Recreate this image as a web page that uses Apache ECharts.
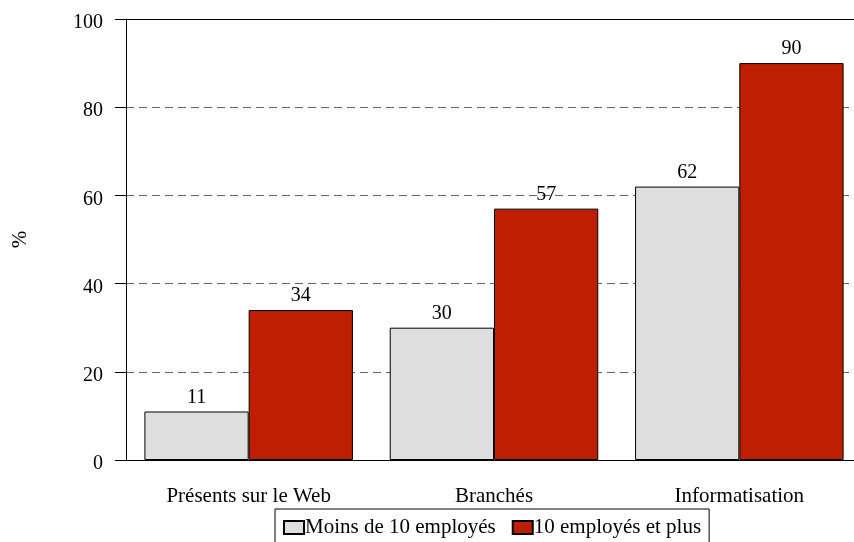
<!DOCTYPE html>
<html>
<head>
<meta charset="utf-8">
<script src="https://cdn.jsdelivr.net/npm/echarts@6/dist/echarts.min.js"></script>
<style>
  html, body { margin: 0; padding: 0; background: #fff; }
  #chart { width: 854px; height: 542px; }
</style>
</head>
<body>
<div id="chart"></div>
<script>
// données
var categories = ['Présents sur le Web', 'Branchés', 'Informatisation'];
var moins10 = [11, 30, 62];
var plus10 = [34, 57, 90];
var seriesNames = ['Moins de 10 employés', '10 employés et plus'];

var font = 'Liberation Serif, Times New Roman, serif';
var chart = echarts.init(document.getElementById('chart'));

var barLabel = {
    show: true,
    position: 'top',
    distance: 4,
    color: '#000',
    fontFamily: font,
    fontSize: 20
};

chart.setOption({
    animation: false,
    textStyle: { fontFamily: font },
    grid: { left: 126, right: -8, top: 19, bottom: 82, outerBoundsMode: 'none' },
    legend: {
        data: seriesNames,
        top: 509,
        left: 275,
        itemWidth: 20,
        itemHeight: 13,
        itemGap: 16,
        icon: 'rect',
        borderColor: '#000',
        borderWidth: 1,
        padding: [8, 8, 8, 8],
        textStyle: { fontFamily: font, fontSize: 21, color: '#000', padding: [5, 0, 0, -4] }
    },
    xAxis: [
        {
            type: 'category',
            data: categories,
            axisLine: { lineStyle: { color: '#000' } },
            axisTick: { alignWithLabel: true, length: 10, lineStyle: { color: '#000' } },
            axisLabel: { color: '#000', fontSize: 21, fontFamily: font, margin: 26 }
        },
        {
            // trait plein du haut (100)
            type: 'category',
            position: 'top',
            data: categories,
            axisLine: { lineStyle: { color: '#000' } },
            axisTick: { show: false },
            axisLabel: { show: false }
        }
    ],
    yAxis: {
        type: 'value',
        min: 0,
        max: 100,
        interval: 20,
        name: '%',
        nameLocation: 'middle',
        nameGap: 95,
        nameRotate: 90,
        nameTextStyle: { color: '#000', fontSize: 21, fontFamily: font },
        axisLine: { show: true, lineStyle: { color: '#000' } },
        axisTick: { show: true, length: 11, lineStyle: { color: '#000' } },
        axisLabel: {
            color: '#000', fontSize: 20, fontFamily: font, margin: 23,
            verticalAlign: 'top', lineHeight: 8
        },
        splitLine: {
            show: true,
            lineStyle: { color: '#666', type: [8, 5], width: 1 }
        }
    },
    series: [
        {
            name: seriesNames[0],
            type: 'bar',
            data: moins10,
            barGap: 0,
            barCategoryGap: '15%',
            itemStyle: { color: '#dedede', borderColor: '#000', borderWidth: 1 },
            label: barLabel
        },
        {
            name: seriesNames[1],
            type: 'bar',
            data: plus10,
            itemStyle: { color: '#bd1f00', borderColor: '#000', borderWidth: 1 },
            label: barLabel
        }
    ]
});
</script>
</body>
</html>
